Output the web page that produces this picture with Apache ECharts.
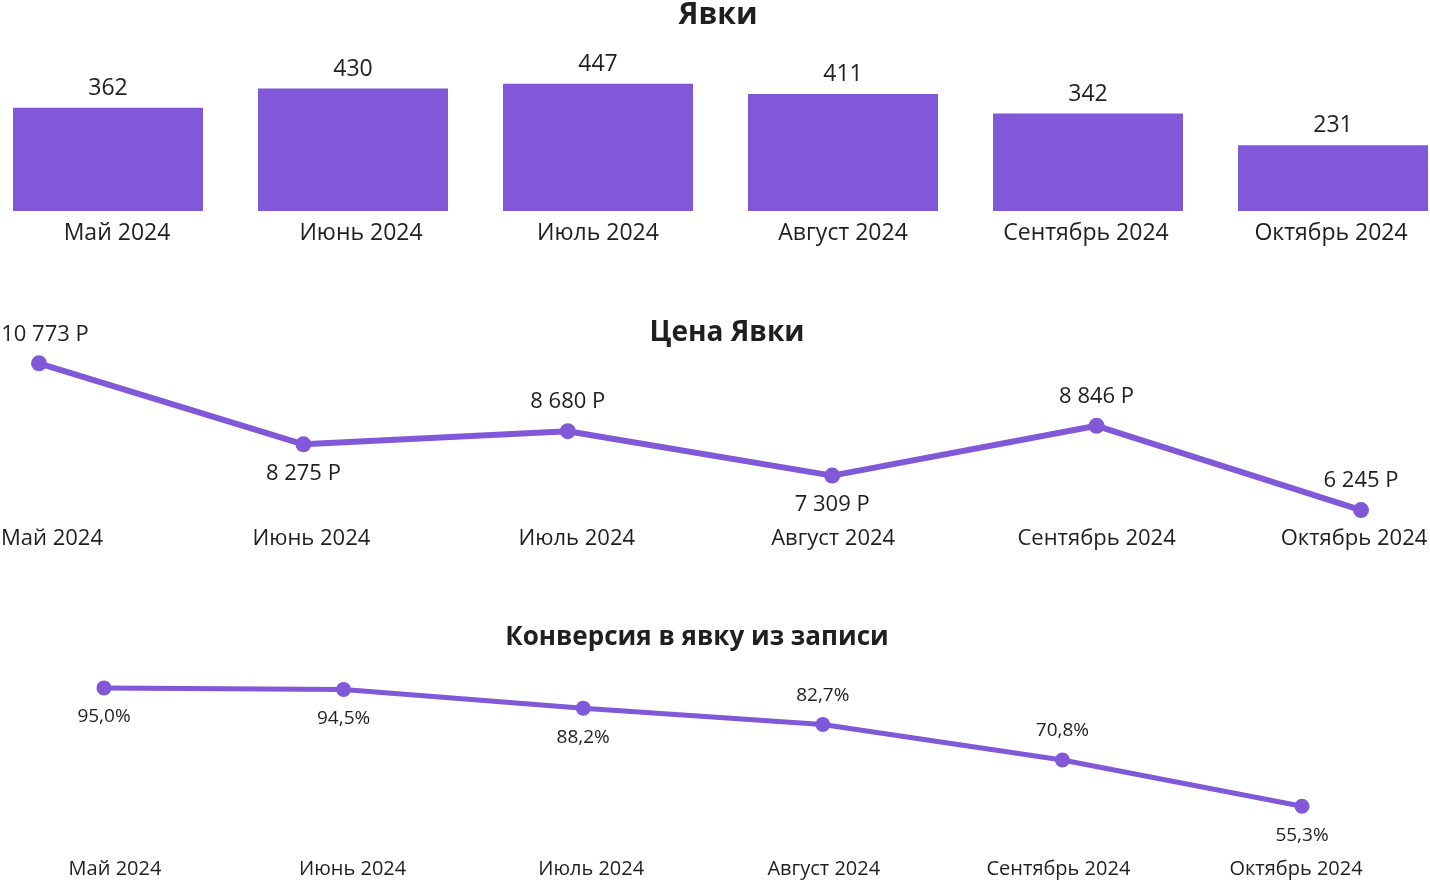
<!DOCTYPE html>
<html><head><meta charset="utf-8">
<script src="https://cdn.jsdelivr.net/npm/echarts@6/dist/echarts.min.js"></script>
<style>html,body{margin:0;padding:0;background:#fff}#c{width:1430px;height:886px}</style>
</head><body><div id="c"></div>
<script>
const months = ['Май 2024','Июнь 2024','Июль 2024','Август 2024','Сентябрь 2024','Октябрь 2024'];
const visits = [362, 430, 447, 411, 342, 231];
const visitPrice = [10773, 8275, 8680, 7309, 8846, 6245];
const conversion = [95.0, 94.5, 88.2, 82.7, 70.8, 55.3];
const priceLabelPos = ['top','bottom','top','bottom','top','top'];
const convLabelPos = ['bottom','bottom','bottom','top','top','bottom'];

const FONT = 'Open Sans';
const COLOR = '#8058D8';
const TXT = '#1f1f1f';

function fmtRub(v){ return String(v).replace(/\B(?=(\d{3})+(?!\d))/g,' ') + ' Р'; }
function fmtPct(v){ return v.toFixed(1).replace('.',',') + '%'; }
// horizontal label nudges (px): positive = right
function nudged(labels, shifts){
  return labels.map((m,i)=>{
    const s = shifts[i] || 0;
    if (!s) return m;
    return {value:m, textStyle:{padding: s>0 ? [0,0,0,2*s] : [0,-2*s,0,0]}};
  });
}

const chart = echarts.init(document.getElementById('c'));
chart.setOption({
  animation:false,
  backgroundColor:'#fff',
  graphic:[
    {type:'text', x:718, y:15, style:{text:'Явки', font:'bold 30px "Open Sans"', fill:TXT, textAlign:'center', textVerticalAlign:'middle'}},
    {type:'text', x:727, y:333, style:{text:'Цена Явки', font:'bold 28px "Open Sans"', fill:TXT, textAlign:'center', textVerticalAlign:'middle'}},
    {type:'text', x:697, y:638, style:{text:'Конверсия в явку из записи', font:'bold 26px "Open Sans"', fill:TXT, textAlign:'center', textVerticalAlign:'middle'}}
  ],
  grid:[
    {left:-14.5, width:1470, top:60, height:151, containLabel:false, outerBoundsMode:'none'},
    {left:39, right:69, top:356, height:162, containLabel:false, outerBoundsMode:'none'},
    {left:104, right:128, top:673, height:149, containLabel:false, outerBoundsMode:'none'}
  ],
  xAxis:[
    {gridIndex:0, type:'category', data:nudged(months,[9,8,0,0,-2,-2]), boundaryGap:true,
     axisLine:{show:false}, axisTick:{show:false},
     axisLabel:{margin:11, fontFamily:FONT, fontSize:23, color:TXT, interval:0, hideOverlap:false}},
    {gridIndex:1, type:'category', boundaryGap:false, data:nudged(months,[13,8,9,1,0,-7]),
     axisLine:{show:false}, axisTick:{show:false},
     axisLabel:{margin:10, fontFamily:FONT, fontSize:22, color:TXT, interval:0, hideOverlap:false}},
    {gridIndex:2, type:'category', boundaryGap:false, data:nudged(months,[11,9,8,1,-4,-6]),
     axisLine:{show:false}, axisTick:{show:false},
     axisLabel:{margin:37, fontFamily:FONT, fontSize:20, color:TXT, interval:0, hideOverlap:false}}
  ],
  yAxis:[
    {gridIndex:0, type:'value', min:0, max:530, show:false, splitLine:{show:false}},
    {gridIndex:1, type:'value', min:6000, max:11000, show:false, splitLine:{show:false}},
    {gridIndex:2, type:'value', min:50, max:100, show:false, splitLine:{show:false}}
  ],
  series:[
    {type:'bar', xAxisIndex:0, yAxisIndex:0, data:visits, barWidth:190,
     itemStyle:{color:COLOR},
     label:{show:true, position:'top', distance:8, fontFamily:FONT, fontSize:23, color:TXT}},
    {type:'line', xAxisIndex:1, yAxisIndex:1,
     data:visitPrice.map((v,i)=>({value:v, label:{position:priceLabelPos[i], offset: i===0 ? [6,0] : [0,0]}})),
     symbol:'circle', symbolSize:16, lineStyle:{width:6, color:COLOR}, itemStyle:{color:COLOR},
     label:{show:true, distance:10, fontFamily:FONT, fontSize:22, color:TXT, formatter:p=>fmtRub(p.value)}},
    {type:'line', xAxisIndex:2, yAxisIndex:2,
     data:conversion.map((v,i)=>({value:v, label:{position:convLabelPos[i]}})),
     symbol:'circle', symbolSize:15, lineStyle:{width:5, color:COLOR}, itemStyle:{color:COLOR},
     label:{show:true, distance:12, fontFamily:FONT, fontSize:19, color:TXT, formatter:p=>fmtPct(p.value)}}
  ]
});
</script></body></html>
